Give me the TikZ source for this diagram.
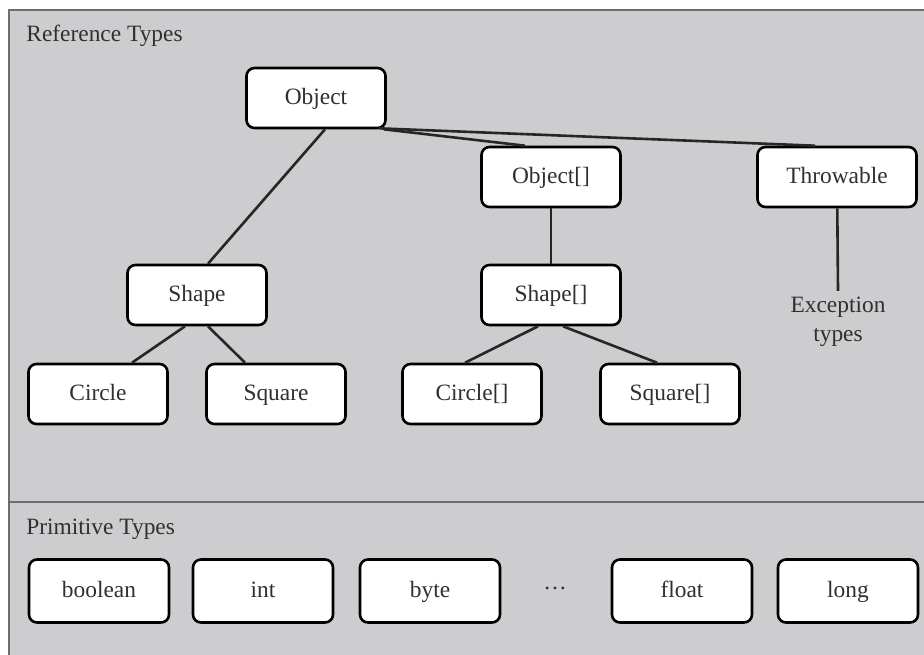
\documentclass[tikz,border=0pt]{standalone}
\usepackage{fontspec}
\setmainfont{Liberation Serif}
\usetikzlibrary{calc}
\definecolor{panelgray}{RGB}{205,205,208}
\definecolor{framegray}{RGB}{110,110,112}
\definecolor{inkgray}{RGB}{48,48,48}

\begin{document}
\begin{tikzpicture}[
    x=0.5pt,y=-0.5pt,
    typebox/.style={draw=black,line width=1.3pt,rounded corners=4pt,fill=white,minimum width=69.5pt,minimum height=30pt,inner sep=0pt,text height=8.5pt,text depth=2.5pt,text=inkgray},
    primbox/.style={typebox,minimum width=70pt,minimum height=31.5pt},
    link/.style={line width=1.3pt,black!85},
    panellabel/.style={anchor=base west,inner sep=0pt,text=inkgray}
  ]
  \fontsize{11.7}{14.5}\selectfont
  \clip (0,0) rectangle (924,654);
  \fill[white] (0,0) rectangle (924,654);
  \draw[framegray,line width=1pt,fill=panelgray] (9,10) rectangle (940,670);
  \draw[framegray,line width=1pt] (9,502) -- (940,502);
  \node[panellabel] (reflabel) at (26,41) {Reference Types};
  \node[panellabel] (primlabel) at (26,534) {Primitive Types};
  % reference types
  \node[typebox] (obj) at (316,98) {Object};
  \node[typebox] (objarr) at (551,177) {Object[]};
  \node[typebox,minimum width=79.5pt] (throwable) at (837,177) {Throwable};
  \node[typebox] (shape) at (197,295) {Shape};
  \node[typebox] (shapearr) at (551,295) {Shape[]};
  \node[typebox] (circle) at (98,394) {Circle};
  \node[typebox] (square) at (276,394) {Square};
  \node[typebox] (circlearr) at (472,394) {Circle[]};
  \node[typebox] (squarearr) at (670,394) {Square[]};
  \node[align=center,inner sep=1pt,text=inkgray] (exc) at (838,322) {Exception\\types};
  \draw[link] ($(obj.south)+(9,0)$) -- ($(shape.north)+(11,0)$);
  \draw[link] ($(obj.south east)+(-3,0)$) -- ($(objarr.north)+(-26,0)$);
  \draw[link] ($(obj.south east)+(-8,-1)$) -- ($(throwable.north)+(-22,0)$);
  \draw[link] (objarr) -- (shapearr);
  \draw[link] (throwable) -- ($(exc.north)+(0,-4)$);
  \draw[link] ($(shape.south)+(-12,0)$) -- ($(circle.north)+(34,0)$);
  \draw[link] ($(shape.south)+(11,0)$) -- ($(square.north)+(-31,0)$);
  \draw[link] ($(shapearr.south)+(-13,0)$) -- ($(circlearr.north)+(-7,0)$);
  \draw[link] ($(shapearr.south)+(12,0)$) -- ($(squarearr.north)+(-13,0)$);
  % primitive types
  \node[primbox] (boolean) at (99,591) {boolean};
  \node[primbox] (int) at (263,591) {int};
  \node[primbox] (byte) at (430,591) {byte};
  \node[text=inkgray] (dots) at (555,588) {\dots};
  \node[primbox] (float) at (682,591) {float};
  \node[primbox] (long) at (848,591) {long};
\end{tikzpicture}
\end{document}
